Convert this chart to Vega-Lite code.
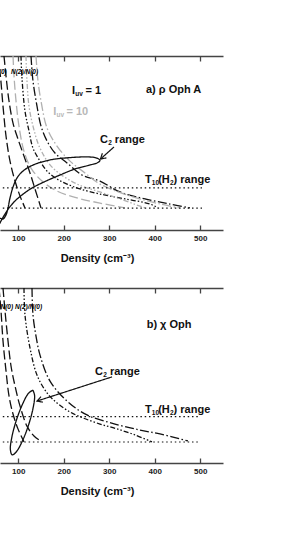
{
  "$schema": "https://vega.github.io/schema/vega-lite/v6.json",
  "padding": {"left": 0, "top": 55, "right": 5, "bottom": 5},
  "bounds": "flush",
  "spacing": 58,
  "config": {
    "view": {"stroke": null},
    "font": "Liberation Sans",
    "axis": {
      "grid": false, "domainColor": "#444", "domainWidth": 1.5, "tickColor": "#444", "tickWidth": 1.3,
      "tickSize": -5, "labelFont": "Liberation Sans", "labelFontSize": 8, "labelFontWeight": "bold",
      "labelColor": "#222", "labelPadding": 9.5, "titleFont": "Liberation Sans", "titleFontSize": 11,
      "titleFontWeight": "bold", "titleColor": "#111"
    }
  },
  "datasets": {
    "a_curves": [
      {"c":"a1","i":0,"x":53.4,"y":105.0,"kind":"N(0)","set":"1"},
      {"c":"a1","i":1,"x":60.0,"y":97.7,"kind":"N(0)","set":"1"},
      {"c":"a1","i":2,"x":66.6,"y":83.4,"kind":"N(0)","set":"1"},
      {"c":"a1","i":3,"x":73.2,"y":70.5,"kind":"N(0)","set":"1"},
      {"c":"a1","i":4,"x":82.0,"y":59.7,"kind":"N(0)","set":"1"},
      {"c":"a1","i":5,"x":93.0,"y":51.1,"kind":"N(0)","set":"1"},
      {"c":"a1","i":6,"x":103.9,"y":44.7,"kind":"N(0)","set":"1"},
      {"c":"a1","i":7,"x":114.9,"y":39.5,"kind":"N(0)","set":"1"},
      {"c":"a2","i":0,"x":68.8,"y":105.0,"kind":"N(0)","set":"1"},
      {"c":"a2","i":1,"x":73.2,"y":96.4,"kind":"N(0)","set":"1"},
      {"c":"a2","i":2,"x":79.8,"y":85.6,"kind":"N(0)","set":"1"},
      {"c":"a2","i":3,"x":88.6,"y":76.1,"kind":"N(0)","set":"1"},
      {"c":"a2","i":4,"x":99.5,"y":69.2,"kind":"N(0)","set":"1"},
      {"c":"a2","i":5,"x":112.7,"y":61.9,"kind":"N(0)","set":"1"},
      {"c":"a2","i":6,"x":125.9,"y":54.6,"kind":"N(0)","set":"1"},
      {"c":"a2","i":7,"x":136.9,"y":47.7,"kind":"N(0)","set":"1"},
      {"c":"a2","i":8,"x":150.1,"y":39.5,"kind":"N(0)","set":"1"},
      {"c":"a3","i":0,"x":106.1,"y":105.0,"kind":"ratio_in","set":"1"},
      {"c":"a3","i":1,"x":108.3,"y":95.5,"kind":"ratio_in","set":"1"},
      {"c":"a3","i":2,"x":114.9,"y":81.3,"kind":"ratio_in","set":"1"},
      {"c":"a3","i":3,"x":123.7,"y":72.7,"kind":"ratio_in","set":"1"},
      {"c":"a3","i":4,"x":132.5,"y":65.3,"kind":"ratio_in","set":"1"},
      {"c":"a3","i":5,"x":147.9,"y":59.7,"kind":"ratio_in","set":"1"},
      {"c":"a3","i":6,"x":163.3,"y":55.4,"kind":"ratio_in","set":"1"},
      {"c":"a3","i":7,"x":185.2,"y":52.0,"kind":"ratio_in","set":"1"},
      {"c":"a3","i":8,"x":207.2,"y":49.8,"kind":"ratio_in","set":"1"},
      {"c":"a3","i":9,"x":235.8,"y":47.7,"kind":"ratio_in","set":"1"},
      {"c":"a3","i":10,"x":279.7,"y":45.5,"kind":"ratio_in","set":"1"},
      {"c":"a3","i":11,"x":334.6,"y":43.4,"kind":"ratio_in","set":"1"},
      {"c":"a3","i":12,"x":389.6,"y":41.2,"kind":"ratio_in","set":"1"},
      {"c":"a3","i":13,"x":407.1,"y":39.5,"kind":"ratio_in","set":"1"},
      {"c":"a4","i":0,"x":128.1,"y":105.0,"kind":"ratio_out","set":"1"},
      {"c":"a4","i":1,"x":132.5,"y":94.2,"kind":"ratio_out","set":"1"},
      {"c":"a4","i":2,"x":141.3,"y":83.4,"kind":"ratio_out","set":"1"},
      {"c":"a4","i":3,"x":150.1,"y":74.8,"kind":"ratio_out","set":"1"},
      {"c":"a4","i":4,"x":163.3,"y":68.4,"kind":"ratio_out","set":"1"},
      {"c":"a4","i":5,"x":180.8,"y":63.2,"kind":"ratio_out","set":"1"},
      {"c":"a4","i":6,"x":207.2,"y":58.9,"kind":"ratio_out","set":"1"},
      {"c":"a4","i":7,"x":240.2,"y":53.7,"kind":"ratio_out","set":"1"},
      {"c":"a4","i":8,"x":279.7,"y":51.1,"kind":"ratio_out","set":"1"},
      {"c":"a4","i":9,"x":323.6,"y":46.4,"kind":"ratio_out","set":"1"},
      {"c":"a4","i":10,"x":378.6,"y":43.4,"kind":"ratio_out","set":"1"},
      {"c":"a4","i":11,"x":433.5,"y":41.2,"kind":"ratio_out","set":"1"},
      {"c":"a4","i":12,"x":477.4,"y":39.5,"kind":"ratio_out","set":"1"},
      {"c":"a5","i":0,"x":88.6,"y":105.0,"kind":"N(0)","set":"10"},
      {"c":"a5","i":1,"x":90.8,"y":96.4,"kind":"N(0)","set":"10"},
      {"c":"a5","i":2,"x":95.2,"y":85.6,"kind":"N(0)","set":"10"},
      {"c":"a5","i":3,"x":101.7,"y":74.8,"kind":"N(0)","set":"10"},
      {"c":"a5","i":4,"x":112.7,"y":64.0,"kind":"N(0)","set":"10"},
      {"c":"a5","i":5,"x":128.1,"y":56.7,"kind":"N(0)","set":"10"},
      {"c":"a5","i":6,"x":152.3,"y":51.1,"kind":"N(0)","set":"10"},
      {"c":"a5","i":7,"x":185.2,"y":46.8,"kind":"N(0)","set":"10"},
      {"c":"a5","i":8,"x":229.2,"y":43.8,"kind":"N(0)","set":"10"},
      {"c":"a5","i":9,"x":279.7,"y":41.6,"kind":"N(0)","set":"10"},
      {"c":"a5","i":10,"x":334.6,"y":39.5,"kind":"N(0)","set":"10"},
      {"c":"a6","i":0,"x":117.1,"y":105.0,"kind":"ratio_in","set":"10"},
      {"c":"a6","i":1,"x":119.3,"y":94.2,"kind":"ratio_in","set":"10"},
      {"c":"a6","i":2,"x":123.7,"y":83.4,"kind":"ratio_in","set":"10"},
      {"c":"a6","i":3,"x":132.5,"y":74.8,"kind":"ratio_in","set":"10"},
      {"c":"a6","i":4,"x":147.9,"y":65.3,"kind":"ratio_in","set":"10"},
      {"c":"a6","i":5,"x":176.4,"y":56.7,"kind":"ratio_in","set":"10"},
      {"c":"a6","i":6,"x":229.2,"y":49.8,"kind":"ratio_in","set":"10"},
      {"c":"a6","i":7,"x":279.7,"y":46.4,"kind":"ratio_in","set":"10"},
      {"c":"a6","i":8,"x":323.6,"y":43.4,"kind":"ratio_in","set":"10"},
      {"c":"a6","i":9,"x":378.6,"y":39.5,"kind":"ratio_in","set":"10"},
      {"c":"a7","i":0,"x":139.1,"y":105.0,"kind":"ratio_out","set":"10"},
      {"c":"a7","i":1,"x":143.5,"y":94.2,"kind":"ratio_out","set":"10"},
      {"c":"a7","i":2,"x":150.1,"y":85.6,"kind":"ratio_out","set":"10"},
      {"c":"a7","i":3,"x":163.3,"y":74.0,"kind":"ratio_out","set":"10"},
      {"c":"a7","i":4,"x":185.2,"y":66.2,"kind":"ratio_out","set":"10"},
      {"c":"a7","i":5,"x":213.8,"y":59.7,"kind":"ratio_out","set":"10"},
      {"c":"a7","i":6,"x":246.7,"y":54.6,"kind":"ratio_out","set":"10"},
      {"c":"a7","i":7,"x":279.7,"y":49.8,"kind":"ratio_out","set":"10"},
      {"c":"a7","i":8,"x":345.6,"y":44.7,"kind":"ratio_out","set":"10"},
      {"c":"a7","i":9,"x":411.5,"y":41.2,"kind":"ratio_out","set":"10"},
      {"c":"a7","i":10,"x":455.5,"y":39.5,"kind":"ratio_out","set":"10"},
      {"c":"a8","i":0,"x":42.4,"y":31.7,"kind":"C2","set":"obs"},
      {"c":"a8","i":1,"x":53.4,"y":34.3,"kind":"C2","set":"obs"},
      {"c":"a8","i":2,"x":60.0,"y":35.0,"kind":"C2","set":"obs"},
      {"c":"a8","i":3,"x":66.6,"y":34.7,"kind":"C2","set":"obs"},
      {"c":"a8","i":4,"x":73.2,"y":36.5,"kind":"C2","set":"obs"},
      {"c":"a8","i":5,"x":77.6,"y":39.5,"kind":"C2","set":"obs"},
      {"c":"a8","i":6,"x":82.0,"y":43.8,"kind":"C2","set":"obs"},
      {"c":"a8","i":7,"x":88.6,"y":48.5,"kind":"C2","set":"obs"},
      {"c":"a8","i":8,"x":97.3,"y":52.4,"kind":"C2","set":"obs"},
      {"c":"a8","i":9,"x":110.5,"y":55.4,"kind":"C2","set":"obs"},
      {"c":"a8","i":10,"x":132.5,"y":58.0,"kind":"C2","set":"obs"},
      {"c":"a8","i":11,"x":169.9,"y":60.2,"kind":"C2","set":"obs"},
      {"c":"a8","i":12,"x":213.8,"y":61.2,"kind":"C2","set":"obs"},
      {"c":"a8","i":13,"x":253.3,"y":61.5,"kind":"C2","set":"obs"},
      {"c":"a8","i":14,"x":273.1,"y":61.0,"kind":"C2","set":"obs"},
      {"c":"a8","i":15,"x":279.7,"y":60.0,"kind":"C2","set":"obs"},
      {"c":"a8","i":16,"x":273.1,"y":58.9,"kind":"C2","set":"obs"},
      {"c":"a8","i":17,"x":253.3,"y":57.8,"kind":"C2","set":"obs"},
      {"c":"a8","i":18,"x":224.8,"y":56.3,"kind":"C2","set":"obs"},
      {"c":"a8","i":19,"x":191.8,"y":53.7,"kind":"C2","set":"obs"},
      {"c":"a8","i":20,"x":158.9,"y":50.9,"kind":"C2","set":"obs"},
      {"c":"a8","i":21,"x":130.3,"y":48.1,"kind":"C2","set":"obs"},
      {"c":"a8","i":22,"x":108.3,"y":45.1,"kind":"C2","set":"obs"},
      {"c":"a8","i":23,"x":93.0,"y":42.5,"kind":"C2","set":"obs"},
      {"c":"a8","i":24,"x":79.8,"y":39.5,"kind":"C2","set":"obs"},
      {"c":"a8","i":25,"x":71.0,"y":36.9,"kind":"C2","set":"obs"},
      {"c":"a8","i":26,"x":62.2,"y":33.9,"kind":"C2","set":"obs"},
      {"c":"a8","i":27,"x":53.4,"y":30.4,"kind":"C2","set":"obs"}
    ],
    "a_straight": [
      {"c":"t1","i":0,"x":0,"y":39.4,"kind":"T10","set":"obs"},
      {"c":"t1","i":1,"x":503.8,"y":39.4,"kind":"T10","set":"obs"},
      {"c":"t2","i":0,"x":0,"y":48.2,"kind":"T10","set":"obs"},
      {"c":"t2","i":1,"x":503.8,"y":48.2,"kind":"T10","set":"obs"},
      {"c":"ar1","i":0,"x":310.5,"y":65.8,"kind":"arrow","set":"obs"},
      {"c":"ar1","i":1,"x":280.8,"y":60.6,"kind":"arrow","set":"obs"},
      {"c":"ar2","i":0,"x":293.8,"y":61.1,"kind":"arrow","set":"obs"},
      {"c":"ar2","i":1,"x":280.8,"y":60.6,"kind":"arrow","set":"obs"},
      {"c":"ar2","i":2,"x":285.0,"y":63.1,"kind":"arrow","set":"obs"}
    ],
    "b_curves": [
      {"c":"b1","i":0,"x":57.8,"y":105.4,"kind":"N(0)","set":"1"},
      {"c":"b1","i":1,"x":62.2,"y":95.5,"kind":"N(0)","set":"1"},
      {"c":"b1","i":2,"x":66.6,"y":82.6,"kind":"N(0)","set":"1"},
      {"c":"b1","i":3,"x":73.2,"y":69.7,"kind":"N(0)","set":"1"},
      {"c":"b1","i":4,"x":79.8,"y":58.9,"kind":"N(0)","set":"1"},
      {"c":"b1","i":5,"x":88.6,"y":51.1,"kind":"N(0)","set":"1"},
      {"c":"b1","i":6,"x":99.5,"y":44.7,"kind":"N(0)","set":"1"},
      {"c":"b1","i":7,"x":112.7,"y":39.1,"kind":"N(0)","set":"1"},
      {"c":"b2","i":0,"x":66.6,"y":105.4,"kind":"N(0)","set":"1"},
      {"c":"b2","i":1,"x":71.0,"y":95.5,"kind":"N(0)","set":"1"},
      {"c":"b2","i":2,"x":77.6,"y":82.6,"kind":"N(0)","set":"1"},
      {"c":"b2","i":3,"x":84.2,"y":71.8,"kind":"N(0)","set":"1"},
      {"c":"b2","i":4,"x":93.0,"y":63.2,"kind":"N(0)","set":"1"},
      {"c":"b2","i":5,"x":103.9,"y":54.6,"kind":"N(0)","set":"1"},
      {"c":"b2","i":6,"x":119.3,"y":45.9,"kind":"N(0)","set":"1"},
      {"c":"b2","i":7,"x":134.7,"y":41.6,"kind":"N(0)","set":"1"},
      {"c":"b2","i":8,"x":152.3,"y":39.1,"kind":"N(0)","set":"1"},
      {"c":"b3","i":0,"x":112.7,"y":105.4,"kind":"ratio_in","set":"1"},
      {"c":"b3","i":1,"x":114.9,"y":93.8,"kind":"ratio_in","set":"1"},
      {"c":"b3","i":2,"x":125.9,"y":79.6,"kind":"ratio_in","set":"1"},
      {"c":"b3","i":3,"x":141.3,"y":67.9,"kind":"ratio_in","set":"1"},
      {"c":"b3","i":4,"x":163.3,"y":60.2,"kind":"ratio_in","set":"1"},
      {"c":"b3","i":5,"x":185.2,"y":55.9,"kind":"ratio_in","set":"1"},
      {"c":"b3","i":6,"x":213.8,"y":52.0,"kind":"ratio_in","set":"1"},
      {"c":"b3","i":7,"x":242.4,"y":49.4,"kind":"ratio_in","set":"1"},
      {"c":"b3","i":8,"x":279.7,"y":46.8,"kind":"ratio_in","set":"1"},
      {"c":"b3","i":9,"x":317.0,"y":44.7,"kind":"ratio_in","set":"1"},
      {"c":"b3","i":10,"x":356.6,"y":42.1,"kind":"ratio_in","set":"1"},
      {"c":"b3","i":11,"x":394.0,"y":39.1,"kind":"ratio_in","set":"1"},
      {"c":"b4","i":0,"x":130.3,"y":105.4,"kind":"ratio_out","set":"1"},
      {"c":"b4","i":1,"x":132.5,"y":93.8,"kind":"ratio_out","set":"1"},
      {"c":"b4","i":2,"x":139.1,"y":84.7,"kind":"ratio_out","set":"1"},
      {"c":"b4","i":3,"x":147.9,"y":76.5,"kind":"ratio_out","set":"1"},
      {"c":"b4","i":4,"x":169.9,"y":65.3,"kind":"ratio_out","set":"1"},
      {"c":"b4","i":5,"x":207.2,"y":56.7,"kind":"ratio_out","set":"1"},
      {"c":"b4","i":6,"x":251.1,"y":50.7,"kind":"ratio_out","set":"1"},
      {"c":"b4","i":7,"x":312.7,"y":46.8,"kind":"ratio_out","set":"1"},
      {"c":"b4","i":8,"x":367.6,"y":44.2,"kind":"ratio_out","set":"1"},
      {"c":"b4","i":9,"x":411.5,"y":42.5,"kind":"ratio_out","set":"1"},
      {"c":"b4","i":10,"x":473.0,"y":39.5,"kind":"ratio_out","set":"1"},
      {"c":"b5","i":0,"x":132.3,"y":61.4,"kind":"C2","set":"obs"},
      {"c":"b5","i":1,"x":136.0,"y":59.1,"kind":"C2","set":"obs"},
      {"c":"b5","i":2,"x":132.7,"y":53.7,"kind":"C2","set":"obs"},
      {"c":"b5","i":3,"x":123.1,"y":46.6,"kind":"C2","set":"obs"},
      {"c":"b5","i":4,"x":109.7,"y":39.7,"kind":"C2","set":"obs"},
      {"c":"b5","i":5,"x":96.5,"y":35.0,"kind":"C2","set":"obs"},
      {"c":"b5","i":6,"x":86.6,"y":33.5,"kind":"C2","set":"obs"},
      {"c":"b5","i":7,"x":82.8,"y":35.8,"kind":"C2","set":"obs"},
      {"c":"b5","i":8,"x":86.1,"y":41.2,"kind":"C2","set":"obs"},
      {"c":"b5","i":9,"x":95.8,"y":48.3,"kind":"C2","set":"obs"},
      {"c":"b5","i":10,"x":109.2,"y":55.2,"kind":"C2","set":"obs"},
      {"c":"b5","i":11,"x":122.4,"y":60.0,"kind":"C2","set":"obs"},
      {"c":"b5","i":12,"x":132.3,"y":61.4,"kind":"C2","set":"obs"}
    ],
    "b_straight": [
      {"c":"t1","i":0,"x":0,"y":39.05,"kind":"T10","set":"obs"},
      {"c":"t1","i":1,"x":499,"y":39.05,"kind":"T10","set":"obs"},
      {"c":"t2","i":0,"x":0,"y":50.0,"kind":"T10","set":"obs"},
      {"c":"t2","i":1,"x":499,"y":50.0,"kind":"T10","set":"obs"},
      {"c":"ar1","i":0,"x":306.1,"y":67.1,"kind":"arrow","set":"obs"},
      {"c":"ar1","i":1,"x":141.3,"y":56.7,"kind":"arrow","set":"obs"},
      {"c":"ar2","i":0,"x":154.3,"y":56.2,"kind":"arrow","set":"obs"},
      {"c":"ar2","i":1,"x":141.3,"y":56.7,"kind":"arrow","set":"obs"},
      {"c":"ar2","i":2,"x":150.1,"y":58.6,"kind":"arrow","set":"obs"}
    ],
    "a_main": [
      {"x":218.2,"y":88.6,"t":"I"},{"x":247.8,"y":88.6,"t":"= 1"},
      {"x":380.8,"y":88.9,"t":"a) ρ Oph A"},
      {"x":279.7,"y":67.6,"t":"C"},{"x":312.4,"y":67.6,"t":"range"},
      {"x":378.6,"y":50.4,"t":"T"},{"x":407.6,"y":50.4,"t":"(H"},{"x":441.4,"y":50.4,"t":") range"}
    ],
    "a_sub": [
      {"x":225.4,"y":87.7,"t":"uv"},{"x":297.7,"y":66.6,"t":"2"},
      {"x":393.5,"y":49.4,"t":"10"},{"x":433.3,"y":49.4,"t":"2"}
    ],
    "a_grey": [{"x":177.1,"y":79.6,"t":"I"},{"x":206.1,"y":79.6,"t":"= 10"}],
    "a_greysub": [{"x":184.4,"y":78.7,"t":"uv"}],
    "a_small": [{"x":46.9,"y":97.2,"t":"N(0)"},{"x":84.2,"y":97.2,"t":"N(2)/N(0)"}],
    "b_main": [
      {"x":382.3,"y":88.2,"t":"b) χ Oph"},
      {"x":268.7,"y":67.9,"t":"C"},{"x":301.5,"y":67.9,"t":"range"},
      {"x":378.6,"y":51.6,"t":"T"},{"x":407.6,"y":51.6,"t":"(H"},{"x":441.4,"y":51.6,"t":") range"}
    ],
    "b_sub": [{"x":286.7,"y":66.9,"t":"2"},{"x":393.5,"y":50.5,"t":"10"},{"x":433.3,"y":50.5,"t":"2"}],
    "b_small": [{"x":61.1,"y":96.4,"t":"N(0)"},{"x":93.0,"y":96.4,"t":"N(2)/N(0)"}]
  },
  "vconcat": [
    {
      "width": 223, "height": 174,
      "resolve": {"axis": {"x": "independent"}},
      "layer": [
        {
          "data": {"name": "a_curves"},
          "mark": {"type": "line", "clip": true, "strokeWidth": 1.3, "interpolate": "catmull-rom"},
          "encoding": {
            "x": {"field": "x", "type": "quantitative", "scale": {"domain": [60, 550], "nice": false, "zero": false},
                  "axis": {"orient": "bottom", "values": [100, 200, 300, 400, 500], "title": "Density (cm⁻³)", "titleX": 97, "titleY": 31, "titleAlign": "center", "titleBaseline": "alphabetic"}},
            "y": {"field": "y", "type": "quantitative", "scale": {"domain": [30, 105], "nice": false, "zero": false},
                  "axis": {"orient": "right", "values": [40, 60, 80, 100], "labels": false, "title": null}},
            "detail": {"field": "c"},
            "order": {"field": "i", "type": "quantitative"},
            "color": {"field": "set", "type": "nominal", "scale": {"domain": ["1", "10", "obs"], "range": ["#111111", "#b0b0b0", "#111111"]}, "legend": null},
            "strokeDash": {"field": "kind", "type": "nominal", "scale": {"domain": ["N(0)", "ratio_in", "ratio_out", "C2", "T10", "arrow"], "range": [[9, 3.5], [5, 2, 1.5, 2, 1.5, 2], [9, 2.5, 1.5, 2.5], [1, 0], [1.5, 2.8], [1, 0]]}, "legend": null}
          }
        },
        {
          "data": {"name": "a_straight"},
          "mark": {"type": "line", "clip": true, "strokeWidth": 1.2},
          "encoding": {
            "x": {"field": "x", "type": "quantitative", "scale": {"domain": [60, 550], "nice": false, "zero": false},
                  "axis": {"orient": "top", "values": [100, 200, 300, 400, 500], "labels": false, "title": null}},
            "y": {"field": "y", "type": "quantitative", "scale": {"domain": [30, 105], "nice": false, "zero": false}, "axis": null},
            "detail": {"field": "c"},
            "order": {"field": "i", "type": "quantitative"},
            "color": {"field": "set", "type": "nominal", "scale": {"domain": ["1", "10", "obs"], "range": ["#111111", "#b0b0b0", "#111111"]}, "legend": null},
            "strokeDash": {"field": "kind", "type": "nominal", "scale": {"domain": ["N(0)", "ratio_in", "ratio_out", "C2", "T10", "arrow"], "range": [[9, 3.5], [5, 2, 1.5, 2, 1.5, 2], [9, 2.5, 1.5, 2.5], [1, 0], [1.5, 2.8], [1, 0]]}, "legend": null}
          }
        },
        {
          "data": {"name": "a_main"},
          "mark": {"type": "text", "align": "left", "baseline": "alphabetic", "fontSize": 11, "fontWeight": "bold", "color": "#111", "clip": true},
          "encoding": {
            "x": {"field": "x", "type": "quantitative", "scale": {"domain": [60, 550], "nice": false, "zero": false}, "axis": null},
            "y": {"field": "y", "type": "quantitative", "scale": {"domain": [30, 105], "nice": false, "zero": false}, "axis": null},
            "text": {"field": "t"}
          }
        },
        {
          "data": {"name": "a_sub"},
          "mark": {"type": "text", "align": "left", "baseline": "alphabetic", "fontSize": 6.5, "fontWeight": "bold", "color": "#111", "clip": true},
          "encoding": {
            "x": {"field": "x", "type": "quantitative", "scale": {"domain": [60, 550], "nice": false, "zero": false}, "axis": null},
            "y": {"field": "y", "type": "quantitative", "scale": {"domain": [30, 105], "nice": false, "zero": false}, "axis": null},
            "text": {"field": "t"}
          }
        },
        {
          "data": {"name": "a_grey"},
          "mark": {"type": "text", "align": "left", "baseline": "alphabetic", "fontSize": 11, "fontWeight": "bold", "color": "#b8b8b8", "clip": true},
          "encoding": {
            "x": {"field": "x", "type": "quantitative", "scale": {"domain": [60, 550], "nice": false, "zero": false}, "axis": null},
            "y": {"field": "y", "type": "quantitative", "scale": {"domain": [30, 105], "nice": false, "zero": false}, "axis": null},
            "text": {"field": "t"}
          }
        },
        {
          "data": {"name": "a_greysub"},
          "mark": {"type": "text", "align": "left", "baseline": "alphabetic", "fontSize": 6.5, "fontWeight": "bold", "color": "#b8b8b8", "clip": true},
          "encoding": {
            "x": {"field": "x", "type": "quantitative", "scale": {"domain": [60, 550], "nice": false, "zero": false}, "axis": null},
            "y": {"field": "y", "type": "quantitative", "scale": {"domain": [30, 105], "nice": false, "zero": false}, "axis": null},
            "text": {"field": "t"}
          }
        },
        {
          "data": {"name": "a_small"},
          "mark": {"type": "text", "align": "left", "baseline": "alphabetic", "fontSize": 6.5, "fontWeight": "bold", "fontStyle": "italic", "color": "#000", "clip": true},
          "encoding": {
            "x": {"field": "x", "type": "quantitative", "scale": {"domain": [60, 550], "nice": false, "zero": false}, "axis": null},
            "y": {"field": "y", "type": "quantitative", "scale": {"domain": [30, 105], "nice": false, "zero": false}, "axis": null},
            "text": {"field": "t"}
          }
        }
      ]
    },
    {
      "width": 223, "height": 175,
      "resolve": {"axis": {"x": "independent"}},
      "layer": [
        {
          "data": {"name": "b_curves"},
          "mark": {"type": "line", "clip": true, "strokeWidth": 1.3, "interpolate": "catmull-rom"},
          "encoding": {
            "x": {"field": "x", "type": "quantitative", "scale": {"domain": [60, 550], "nice": false, "zero": false},
                  "axis": {"orient": "bottom", "values": [100, 200, 300, 400, 500], "title": "Density (cm⁻³)", "titleX": 97, "titleY": 31, "titleAlign": "center", "titleBaseline": "alphabetic"}},
            "y": {"field": "y", "type": "quantitative", "scale": {"domain": [30, 105.4], "nice": false, "zero": false},
                  "axis": {"orient": "right", "values": [40, 60, 80, 100], "labels": false, "title": null}},
            "detail": {"field": "c"},
            "order": {"field": "i", "type": "quantitative"},
            "color": {"field": "set", "type": "nominal", "scale": {"domain": ["1", "10", "obs"], "range": ["#111111", "#b0b0b0", "#111111"]}, "legend": null},
            "strokeDash": {"field": "kind", "type": "nominal", "scale": {"domain": ["N(0)", "ratio_in", "ratio_out", "C2", "T10", "arrow"], "range": [[9, 3.5], [5, 2, 1.5, 2, 1.5, 2], [9, 2.5, 1.5, 2.5], [1, 0], [1.5, 2.8], [1, 0]]}, "legend": null}
          }
        },
        {
          "data": {"name": "b_straight"},
          "mark": {"type": "line", "clip": true, "strokeWidth": 1.2},
          "encoding": {
            "x": {"field": "x", "type": "quantitative", "scale": {"domain": [60, 550], "nice": false, "zero": false},
                  "axis": {"orient": "top", "values": [100, 200, 300, 400, 500], "labels": false, "title": null}},
            "y": {"field": "y", "type": "quantitative", "scale": {"domain": [30, 105.4], "nice": false, "zero": false}, "axis": null},
            "detail": {"field": "c"},
            "order": {"field": "i", "type": "quantitative"},
            "color": {"field": "set", "type": "nominal", "scale": {"domain": ["1", "10", "obs"], "range": ["#111111", "#b0b0b0", "#111111"]}, "legend": null},
            "strokeDash": {"field": "kind", "type": "nominal", "scale": {"domain": ["N(0)", "ratio_in", "ratio_out", "C2", "T10", "arrow"], "range": [[9, 3.5], [5, 2, 1.5, 2, 1.5, 2], [9, 2.5, 1.5, 2.5], [1, 0], [1.5, 2.8], [1, 0]]}, "legend": null}
          }
        },
        {
          "data": {"name": "b_main"},
          "mark": {"type": "text", "align": "left", "baseline": "alphabetic", "fontSize": 11, "fontWeight": "bold", "color": "#111", "clip": true},
          "encoding": {
            "x": {"field": "x", "type": "quantitative", "scale": {"domain": [60, 550], "nice": false, "zero": false}, "axis": null},
            "y": {"field": "y", "type": "quantitative", "scale": {"domain": [30, 105.4], "nice": false, "zero": false}, "axis": null},
            "text": {"field": "t"}
          }
        },
        {
          "data": {"name": "b_sub"},
          "mark": {"type": "text", "align": "left", "baseline": "alphabetic", "fontSize": 6.5, "fontWeight": "bold", "color": "#111", "clip": true},
          "encoding": {
            "x": {"field": "x", "type": "quantitative", "scale": {"domain": [60, 550], "nice": false, "zero": false}, "axis": null},
            "y": {"field": "y", "type": "quantitative", "scale": {"domain": [30, 105.4], "nice": false, "zero": false}, "axis": null},
            "text": {"field": "t"}
          }
        },
        {
          "data": {"name": "b_small"},
          "mark": {"type": "text", "align": "left", "baseline": "alphabetic", "fontSize": 6.5, "fontWeight": "bold", "fontStyle": "italic", "color": "#000", "clip": true},
          "encoding": {
            "x": {"field": "x", "type": "quantitative", "scale": {"domain": [60, 550], "nice": false, "zero": false}, "axis": null},
            "y": {"field": "y", "type": "quantitative", "scale": {"domain": [30, 105.4], "nice": false, "zero": false}, "axis": null},
            "text": {"field": "t"}
          }
        }
      ]
    }
  ]
}
